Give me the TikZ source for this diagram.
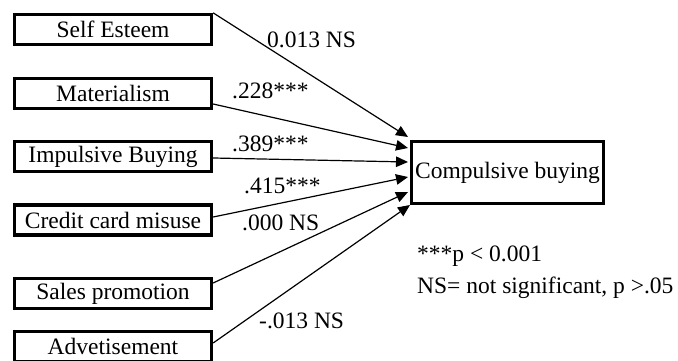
\documentclass[tikz,border=0pt]{standalone}
\usepackage{fontspec}
\setmainfont{Liberation Serif}
\usetikzlibrary{arrows.meta}
\begin{document}
\begin{tikzpicture}[x=1pt,y=-1pt,
  every node/.style={font=\fontsize{23.5}{28}\selectfont},
  lbox/.style={draw, line width=3.3pt, minimum width=197pt, minimum height=30pt, inner sep=0pt},
  cbox/.style={draw, line width=3.6pt, minimum width=192pt, minimum height=62pt, inner sep=0pt},
  conn/.style={line width=1.2pt, -{Triangle[length=12pt,width=10.5pt]}},
  lab/.style={anchor=base west, inner sep=0pt}]
\useasboundingbox (0,0) rectangle (678,361);

% predictor boxes
\node[lbox] (se)  at (113,29.5)  {Self Esteem};
\node[lbox] (mat) at (113,93.5)  {Materialism};
\node[lbox] (imp) at (113,156.5) {Impulsive Buying};
\node[lbox] (ccm) at (113,220)   {Credit card misuse};
\node[lbox] (sp)  at (113,293.5) {Sales promotion};
\node[lbox] (adv) at (113,346.5) {Advetisement};

% outcome box
\node[cbox] (cb) at (507.5,172.5) {Compulsive buying};

% arrow end points
\coordinate (t1) at (408,137);
\coordinate (t2) at (408,148);
\coordinate (t3) at (408,162);
\coordinate (t4) at (408,177);
\coordinate (t5) at (408,192);
\coordinate (t6) at (410,205);

% connectors
\draw[conn] (se.north east) -- (t1);
\draw[conn] ([yshift=-10.5pt]mat.east) -- (t2);
\draw[conn] ([yshift=-1.5pt]imp.east) -- (t3);
\draw[conn] ([yshift=3pt]ccm.east) -- (t4);
\draw[conn] ([yshift=10.5pt]sp.east) -- (t5);
\draw[conn] ([yshift=3.5pt]adv.east) -- (t6);

% path labels
\node[lab] (l1) at (267,48)  {0.013 NS};
\node[lab] (l2) at (232,99)  {.228***};
\node[lab] (l3) at (232,151) {.389***};
\node[lab] (l4) at (244,193) {.415***};
\node[lab] (l5) at (242,230) {.000 NS};
\node[lab] (l6) at (259,328) {-.013 NS};

% legend
\node[lab] (n1) at (417,261) {***p < 0.001};
\node[lab] (n2) at (417,293) {NS= not significant, p >.05};
\end{tikzpicture}
\end{document}
